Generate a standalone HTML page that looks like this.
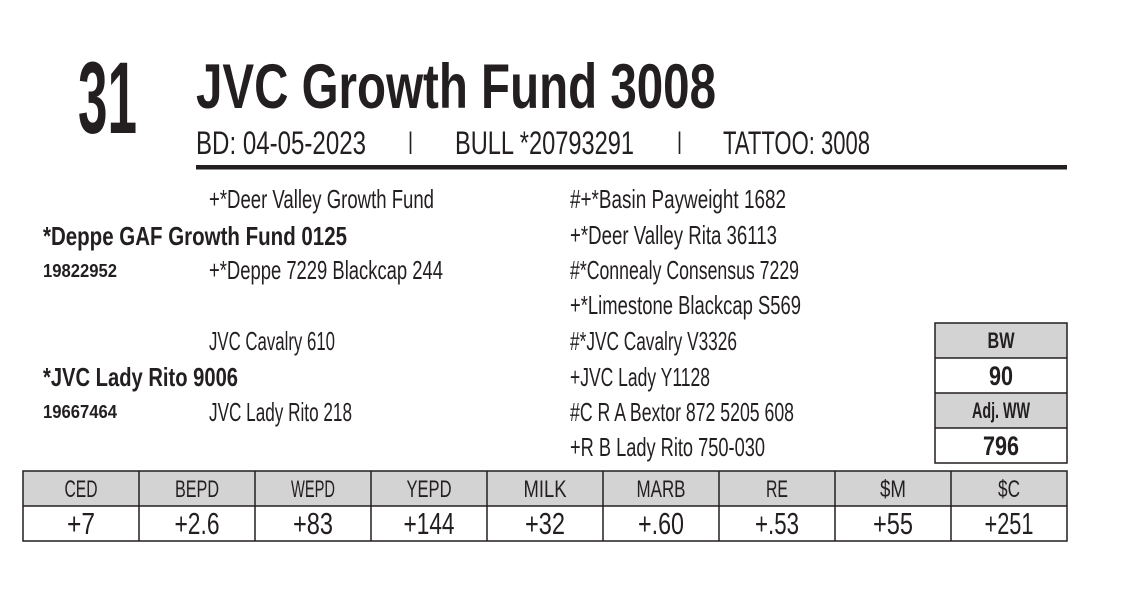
<!DOCTYPE html>
<html><head><meta charset="utf-8"><style>
html,body{margin:0;padding:0;background:#fff;}
svg{display:block;}
text{font-family:"Liberation Sans Narrow","Liberation Sans",sans-serif;fill:#231f20;}
.b{font-weight:bold;}
</style></head><body>
<svg width="1128" height="600" viewBox="0 0 1128 600" xmlns="http://www.w3.org/2000/svg">
<rect width="1128" height="600" fill="#fff"/>
<text class="b" x="78" y="133" font-size="102" textLength="59" lengthAdjust="spacingAndGlyphs">31</text>
<text class="b" x="196" y="108" font-size="63" textLength="520" lengthAdjust="spacingAndGlyphs">JVC Growth Fund 3008</text>
<g font-size="32">
<text x="196" y="154" textLength="170" lengthAdjust="spacingAndGlyphs">BD: 04-05-2023</text>
<text x="408" y="154" textLength="5" lengthAdjust="spacingAndGlyphs">I</text>
<text x="455" y="154" textLength="179" lengthAdjust="spacingAndGlyphs">BULL *20793291</text>
<text x="677" y="154" textLength="5" lengthAdjust="spacingAndGlyphs">I</text>
<text x="723" y="154" textLength="147" lengthAdjust="spacingAndGlyphs">TATTOO: 3008</text>
</g>
<rect x="196" y="165" width="871" height="4.5" fill="#231f20"/>
<g font-size="26">
<text x="209" y="208" textLength="225" lengthAdjust="spacingAndGlyphs">+*Deer Valley Growth Fund</text>
<text class="b" x="43" y="245" textLength="304" lengthAdjust="spacingAndGlyphs">*Deppe GAF Growth Fund 0125</text>
<text x="209" y="279" textLength="234" lengthAdjust="spacingAndGlyphs">+*Deppe 7229 Blackcap 244</text>
<text x="209" y="350" textLength="126" lengthAdjust="spacingAndGlyphs">JVC Cavalry 610</text>
<text class="b" x="43" y="386" textLength="195" lengthAdjust="spacingAndGlyphs">*JVC Lady Rito 9006</text>
<text x="209" y="421" textLength="143" lengthAdjust="spacingAndGlyphs">JVC Lady Rito 218</text>
<text x="570" y="208" textLength="216" lengthAdjust="spacingAndGlyphs">#+*Basin Payweight 1682</text>
<text x="570" y="244" textLength="207" lengthAdjust="spacingAndGlyphs">+*Deer Valley Rita 36113</text>
<text x="570" y="279" textLength="229" lengthAdjust="spacingAndGlyphs">#*Connealy Consensus 7229</text>
<text x="570" y="314" textLength="231" lengthAdjust="spacingAndGlyphs">+*Limestone Blackcap S569</text>
<text x="570" y="350" textLength="167" lengthAdjust="spacingAndGlyphs">#*JVC Cavalry V3326</text>
<text x="570" y="386" textLength="140" lengthAdjust="spacingAndGlyphs">+JVC Lady Y1128</text>
<text x="570" y="421" textLength="224" lengthAdjust="spacingAndGlyphs">#C R A Bextor 872 5205 608</text>
<text x="570" y="456" textLength="195" lengthAdjust="spacingAndGlyphs">+R B Lady Rito 750-030</text>
</g>
<g font-size="18">
<text class="b" x="43" y="277" textLength="74" lengthAdjust="spacingAndGlyphs">19822952</text>
<text class="b" x="43" y="418" textLength="74" lengthAdjust="spacingAndGlyphs">19667464</text>
</g>
<rect x="935" y="323" width="132" height="35" fill="#d3d3d3"/>
<rect x="935" y="393" width="132" height="35" fill="#d3d3d3"/>
<g stroke="#231f20" stroke-width="1.5" fill="none">
<rect x="935" y="323" width="132" height="140"/>
<line x1="935" y1="358" x2="1067" y2="358"/>
<line x1="935" y1="393" x2="1067" y2="393"/>
<line x1="935" y1="428" x2="1067" y2="428"/>
</g>
<g text-anchor="middle">
<text class="b" x="1001" y="348" font-size="22" textLength="27" lengthAdjust="spacingAndGlyphs">BW</text>
<text class="b" x="1001" y="385" font-size="27" textLength="24" lengthAdjust="spacingAndGlyphs">90</text>
<text class="b" x="1001" y="418" font-size="22" textLength="58" lengthAdjust="spacingAndGlyphs">Adj. WW</text>
<text class="b" x="1001" y="455" font-size="27" textLength="36" lengthAdjust="spacingAndGlyphs">796</text>
</g>
<rect x="23" y="471" width="1044" height="35" fill="#d3d3d3"/>
<g stroke="#231f20" stroke-width="1.5" fill="none">
<rect x="23" y="471" width="1044" height="70"/>
<line x1="23" y1="506" x2="1067" y2="506"/>
<line x1="139" y1="471" x2="139" y2="541"/>
<line x1="255" y1="471" x2="255" y2="541"/>
<line x1="371" y1="471" x2="371" y2="541"/>
<line x1="487" y1="471" x2="487" y2="541"/>
<line x1="603" y1="471" x2="603" y2="541"/>
<line x1="719" y1="471" x2="719" y2="541"/>
<line x1="835" y1="471" x2="835" y2="541"/>
<line x1="951" y1="471" x2="951" y2="541"/>
</g>
<g text-anchor="middle" font-size="24">
<text x="81" y="497" textLength="33" lengthAdjust="spacingAndGlyphs">CED</text>
<text x="197" y="497" textLength="44" lengthAdjust="spacingAndGlyphs">BEPD</text>
<text x="313" y="497" textLength="44" lengthAdjust="spacingAndGlyphs">WEPD</text>
<text x="429" y="497" textLength="45" lengthAdjust="spacingAndGlyphs">YEPD</text>
<text x="545" y="497" textLength="43" lengthAdjust="spacingAndGlyphs">MILK</text>
<text x="661" y="497" textLength="49" lengthAdjust="spacingAndGlyphs">MARB</text>
<text x="777" y="497" textLength="22" lengthAdjust="spacingAndGlyphs">RE</text>
<text x="893" y="497" textLength="26" lengthAdjust="spacingAndGlyphs">$M</text>
<text x="1009" y="497" textLength="22" lengthAdjust="spacingAndGlyphs">$C</text>
</g>
<g text-anchor="middle" font-size="31">
<text x="81" y="534" textLength="28" lengthAdjust="spacingAndGlyphs">+7</text>
<text x="197" y="534" textLength="45" lengthAdjust="spacingAndGlyphs">+2.6</text>
<text x="313" y="534" textLength="40" lengthAdjust="spacingAndGlyphs">+83</text>
<text x="429" y="534" textLength="51" lengthAdjust="spacingAndGlyphs">+144</text>
<text x="545" y="534" textLength="40" lengthAdjust="spacingAndGlyphs">+32</text>
<text x="661" y="534" textLength="46" lengthAdjust="spacingAndGlyphs">+.60</text>
<text x="777" y="534" textLength="44" lengthAdjust="spacingAndGlyphs">+.53</text>
<text x="893" y="534" textLength="40" lengthAdjust="spacingAndGlyphs">+55</text>
<text x="1009" y="534" textLength="49" lengthAdjust="spacingAndGlyphs">+251</text>
</g>
</svg>
</body></html>
